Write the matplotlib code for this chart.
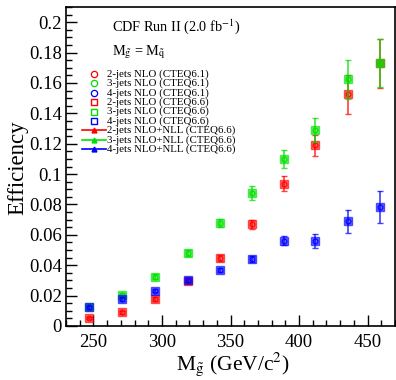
import numpy as np
import matplotlib
matplotlib.use("Agg")
import matplotlib.pyplot as plt
from matplotlib.lines import Line2D
from matplotlib.ticker import MultipleLocator

plt.rcParams['font.family'] = ['Liberation Serif', 'DejaVu Serif']
plt.rcParams['mathtext.fontset'] = 'stix'

# gluino mass points (GeV/c^2)
mass = [247, 271, 295, 319, 342, 366, 389, 412, 436, 459]

# efficiencies
eff_2jet = [0.0053, 0.0090, 0.0178, 0.0295, 0.0447, 0.0671, 0.0937, 0.1190, 0.1525, 0.1730]
eff_3jet = [0.0125, 0.0207, 0.0325, 0.0482, 0.0678, 0.0876, 0.1100, 0.1289, 0.1624, 0.1731]
eff_4jet = [0.0123, 0.0176, 0.0233, 0.0302, 0.0370, 0.0440, 0.0561, 0.0560, 0.0688, 0.0781]

err_2jet = [0.0008, 0.0010, 0.0012, 0.0015, 0.0020, 0.0030, 0.0050, 0.0070, 0.0130, 0.0160]
err_3jet = [0.0010, 0.0012, 0.0015, 0.0020, 0.0025, 0.0045, 0.0057, 0.0080, 0.0127, 0.0160]
err_4jet = [0.0010, 0.0012, 0.0012, 0.0015, 0.0015, 0.0020, 0.0030, 0.0048, 0.0075, 0.0105]

cols = ['#ff0000', '#00e000', '#0000ff']
names = ['2-jets', '3-jets', '4-jets']
effs = [eff_2jet, eff_3jet, eff_4jet]
errs = [err_2jet, err_3jet, err_4jet]

W, H = 396, 380
fig = plt.figure(figsize=(W / 100, H / 100), dpi=100)
ax = fig.add_axes([66 / W, 1 - 326 / H, 329 / W, 319 / H])

for c, e, er in zip(cols, effs, errs):
    # NLO+NLL with error bars
    ax.errorbar(mass, e, yerr=er, fmt='none', ecolor=c, elinewidth=1.2,
                capsize=2, capthick=1, alpha=0.75)
    ax.plot(mass, e, 's', ms=5.5, mfc=c, mec=c, alpha=0.6)
    ax.plot(mass, e, 'o', ms=3.5, mfc='none', mec=c, mew=0.8)

ax.set_xlim(230, 470)
ax.set_ylim(0, 0.21)
ax.xaxis.set_major_locator(MultipleLocator(50))
ax.xaxis.set_minor_locator(MultipleLocator(10))
ax.yaxis.set_minor_locator(MultipleLocator(0.005))
ax.set_yticks(np.arange(0, 0.201, 0.02))
ax.set_yticklabels(['0', '0.02', '0.04', '0.06', '0.08', '0.1', '0.12', '0.14',
                    '0.16', '0.18', '0.2'])
ax.tick_params(which='both', direction='in', top=False, right=False, labelsize=13.5)
ax.tick_params(which='major', length=8, width=1)
ax.tick_params(which='minor', length=4, width=1)
ax.tick_params(axis='x', pad=6)
ax.tick_params(axis='y', pad=3)
for s in ax.spines.values():
    s.set_linewidth(1.2)

# axis titles
fig.text(18 / W, 1 - 168 / H, 'Efficiency', fontsize=16.5, rotation=90,
         ha='center', va='center')
fig.text(233 / W, 1 - 364 / H, r'M$_{\tilde{\mathrm{g}}}$ (GeV/c$^{2}$)', fontsize=15.5,
         ha='center', va='center')

fig.text(112 / W, 1 - 27 / H, r'CDF Run II (2.0 fb$^{-1}$)', fontsize=10.3, va='center')
fig.text(112 / W, 1 - 52 / H, r'M$_{\tilde{\mathrm{g}}}$ = M$_{\tilde{\mathrm{q}}}$', fontsize=10.3,
         va='center')

# legend drawn by hand, rows 9.4 px apart
rows = []
for c, n in zip(cols, names):
    rows.append(('o', c, n + ' NLO (CTEQ6.1)'))
for c, n in zip(cols, names):
    rows.append(('s', c, n + ' NLO (CTEQ6.6)'))
for c, n in zip(cols, names):
    rows.append(('line', c, n + ' NLO+NLL (CTEQ6.6)'))

for i, (kind, c, lab) in enumerate(rows):
    yy = 1 - (74 + 9.4 * i) / H
    if kind == 'line':
        fig.add_artist(Line2D([82 / W, 106 / W], [yy, yy], color=c, lw=1.2))
        fig.add_artist(Line2D([94 / W], [yy], ls='none', marker='^', ms=3.5,
                              color=c, mfc=c, mec=c))
    elif kind == 's':
        fig.add_artist(Line2D([94 / W], [yy], ls='none', marker='s', ms=4.5,
                              color=c, mfc='white', mec=c, mew=1.0))
    else:
        fig.add_artist(Line2D([94 / W], [yy], ls='none', marker='o', ms=4.5,
                              color=c, mfc='white', mec=c, mew=0.9))
    fig.text(107 / W, yy, lab, fontsize=7.8, va='center')

fig.savefig('out.png', dpi=100)
